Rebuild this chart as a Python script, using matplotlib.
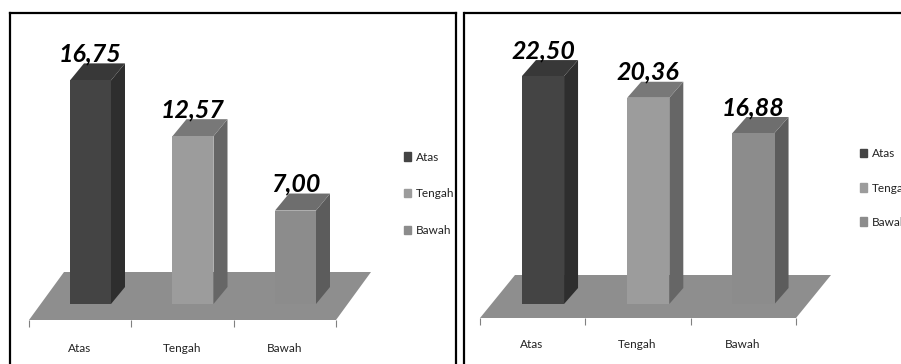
import matplotlib.pyplot as plt
from matplotlib.patches import Patch, Polygon

categories = ['Atas', 'Tengah', 'Bawah']
left_values = [16.75, 12.57, 7.00]
right_values = [22.50, 20.36, 16.88]
value_labels_left = ['16,75', '12,57', '7,00']
value_labels_right = ['22,50', '20,36', '16,88']

# warna tiap batang: depan, samping, atas
front_colors = ['#444444', '#9c9c9c', '#8c8c8c']
side_colors = ['#2e2e2e', '#666666', '#5c5c5c']
top_colors = ['#383838', '#787878', '#6e6e6e']
floor_color = '#8e8e8e'

W, H = 901, 364
FONT = ['Lato', 'DejaVu Sans']
BAR_WIDTH = 0.4


def draw_panel(box, x0, step, base, unit, depth, floor, cat_shift, cat_y, legend_xy, legend_gap, values, labels):
    # box = kiri, atas, kanan, bawah dalam piksel
    l, t, r, b = box
    ax = fig.add_axes([l / W, 1 - b / H, (r - l) / W, (b - t) / H])
    ax.set_xlim((l - x0) / step, (r - x0) / step)
    ax.set_ylim((base - b) / unit, (base - t) / unit)
    ax.set_xticks([])
    ax.set_yticks([])
    ax.spines['bottom'].set_visible(False)
    for s in ['top', 'left', 'right']:
        ax.spines[s].set_linewidth(1.6)

    dx = depth[0] / step
    dy = depth[1] / unit

    # lantai grafik
    fx0, fx1, fy0, fx_back, fy1 = floor
    floor_pts = [((fx0 - x0) / step, (base - fy0) / unit),
                 ((fx1 - x0) / step, (base - fy0) / unit),
                 ((fx1 + fx_back - x0) / step, (base - fy1) / unit),
                 ((fx0 + fx_back - x0) / step, (base - fy1) / unit)]
    ax.add_patch(Polygon(floor_pts, closed=True, color=floor_color, lw=0, zorder=1))

    # garis tick di tepi depan lantai
    edges = [floor_pts[0][0] + i * (floor_pts[1][0] - floor_pts[0][0]) / len(categories)
             for i in range(len(categories) + 1)]
    ax.vlines(edges, floor_pts[0][1] - 7 / unit, floor_pts[0][1], color='#808080', lw=0.8, zorder=1)

    for i, v in enumerate(values):
        x1 = i - BAR_WIDTH / 2
        x2 = i + BAR_WIDTH / 2
        ax.bar(i, v, width=BAR_WIDTH, color=front_colors[i], zorder=3)
        ax.add_patch(Polygon([(x2, 0), (x2 + dx, dy), (x2 + dx, v + dy), (x2, v)],
                             closed=True, color=side_colors[i], lw=0, zorder=2))
        ax.add_patch(Polygon([(x1, v), (x2, v), (x2 + dx, v + dy), (x1 + dx, v + dy)],
                             closed=True, color=top_colors[i], lw=0, zorder=2))
        ax.annotate(labels[i], xy=(i, v + dy), xytext=(0, 1.5), textcoords='offset points',
                    ha='center', va='baseline', fontsize=18, fontweight='bold',
                    fontstyle='italic', family=FONT, color='black', zorder=4)
        ax.text(i + cat_shift, (base - cat_y) / unit, categories[i], ha='center', va='center',
                fontsize=8.5, family=FONT, color='#222222')

    handles = [Patch(color=c, label=n) for c, n in zip(front_colors, categories)]
    ax.legend(handles=handles, loc='center left', frameon=False,
              bbox_to_anchor=((legend_xy[0] - l) / (r - l), (b - legend_xy[1]) / (b - t)),
              bbox_transform=ax.transAxes, borderpad=0, borderaxespad=0,
              handlelength=0.6, handleheight=0.7, handletextpad=0.4,
              labelspacing=legend_gap, prop={'family': FONT, 'size': 8.5}, labelcolor='#222222')
    return ax


fig = plt.figure(figsize=(W / 100, H / 100), dpi=100, facecolor='white')

draw_panel((9.5, 12.5, 456, 372), 90.5, 102.5, 304, 13.35, (14, 17),
           (29, 336, 320, 35, 272), -0.11, 348, (404, 194), 2.2,
           left_values, value_labels_left)
draw_panel((464.5, 12.5, 930, 372), 543, 105.25, 304, 10.13, (14, 16),
           (480, 796, 318, 35, 275), -0.105, 345, (860, 188), 1.95,
           right_values, value_labels_right)

fig.savefig('out.png', dpi=100)
